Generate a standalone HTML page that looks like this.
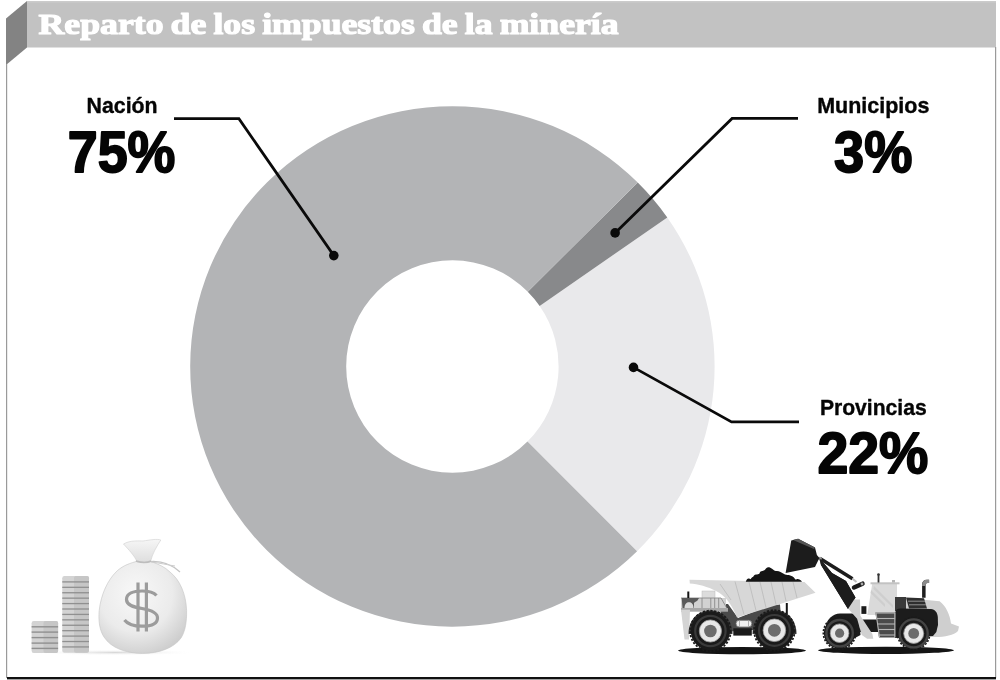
<!DOCTYPE html>
<html><head><meta charset="utf-8">
<style>
html,body{margin:0;padding:0;background:#fff;width:1000px;height:680px;overflow:hidden}
svg{display:block;will-change:transform}
.lab{font-family:"Liberation Sans",sans-serif;font-weight:bold;fill:#050505;stroke:#050505;stroke-linejoin:round}
.ttl{font-family:"Liberation Serif",serif;font-weight:bold;fill:#fff;stroke:#fff;stroke-width:1.2;stroke-linejoin:round}
</style></head><body>
<svg width="1000" height="680" viewBox="0 0 1000 680">
<!-- frame -->
<rect x="27" y="1" width="969" height="46.5" fill="#c2c2c2"/>
<rect x="27" y="1" width="969" height="1.5" fill="#cbcbcb"/>
<polygon points="6,18.4 27,1 27,47.5 6,65" fill="#838383"/>
<rect x="6" y="64" width="1.2" height="614" fill="#9a9a9a"/>
<rect x="995" y="47" width="1.2" height="631" fill="#9a9a9a"/>
<rect x="7" y="677" width="989" height="2.3" fill="#111"/>
<rect x="7" y="679.3" width="989" height="0.7" fill="#9a9a9a"/>
<text class="ttl" x="38.6" y="34" word-spacing="-1.5" font-size="29.5" textLength="580" lengthAdjust="spacingAndGlyphs">Reparto de los impuestos de la minería</text>
<!-- pie -->
<path fill="#e9e9eb" d="M637.09,551.19 A262.2,260.2 0 0 0 667.3,217.42 L539.66,305.97 A106.2,106.2 0 0 1 527.49,441.59 Z"/>
<path fill="#88898b" d="M667.3,217.42 A262.2,260.2 0 0 0 637.74,182.45 L527.76,291.67 A106.2,106.2 0 0 1 539.66,305.97 Z"/>
<path fill="#b3b4b6" d="M637.74,182.45 A262.2,260.2 0 1 0 637.09,551.19 L527.49,441.59 A106.2,106.2 0 1 1 527.76,291.67 Z"/>
<!-- leaders -->
<g fill="none" stroke="#0a0a0a" stroke-width="2.75" stroke-linejoin="miter">
<polyline points="174,118.7 238.9,118.7 333.8,255.6"/>
<polyline points="798,118.4 732.1,118.4 615.1,232.9"/>
<polyline points="633.5,367.4 731.5,421.9 799,421.9"/>
</g>
<g fill="#0a0a0a">
<circle cx="333.8" cy="255.6" r="4.8"/>
<circle cx="615.1" cy="232.9" r="4.8"/>
<circle cx="633.5" cy="367.4" r="4.8"/>
</g>
<!-- labels -->
<text class="lab" x="86.6" y="113" font-size="21.5" style="stroke-width:0.35" textLength="71" lengthAdjust="spacingAndGlyphs">Nación</text>
<text class="lab" x="67.8" y="171.6" font-size="57" style="stroke-width:1.8" textLength="107.6" lengthAdjust="spacingAndGlyphs">75%</text>
<text class="lab" x="817.2" y="113" font-size="21.5" style="stroke-width:0.35" textLength="112.2" lengthAdjust="spacingAndGlyphs">Municipios</text>
<text class="lab" x="834" y="171.6" font-size="57" style="stroke-width:1.8" textLength="78.4" lengthAdjust="spacingAndGlyphs">3%</text>
<text class="lab" x="819.9" y="415.3" font-size="21.5" style="stroke-width:0.35" textLength="106.8" lengthAdjust="spacingAndGlyphs">Provincias</text>
<text class="lab" x="817.4" y="472.6" font-size="57" style="stroke-width:1.8" textLength="111" lengthAdjust="spacingAndGlyphs">22%</text>
<!-- ICONS -->
<defs>
<linearGradient id="coinG" x1="0" x2="1" y1="0" y2="0">
<stop offset="0" stop-color="#c9c9c9"/><stop offset="0.45" stop-color="#dcdcdc"/><stop offset="0.55" stop-color="#cfcfcf"/><stop offset="1" stop-color="#bdbdbd"/>
</linearGradient>
<radialGradient id="bagG" cx="0.42" cy="0.35" r="0.7">
<stop offset="0" stop-color="#f8f8f8"/><stop offset="0.6" stop-color="#ebebeb"/><stop offset="1" stop-color="#cdcdcd"/>
</radialGradient>
<linearGradient id="topG" x1="0" x2="0" y1="0" y2="1">
<stop offset="0" stop-color="#f6f6f6"/><stop offset="1" stop-color="#dedede"/>
</linearGradient>
<radialGradient id="shG" cx="0.5" cy="0.5" r="0.5">
<stop offset="0" stop-color="#d8d8d8"/><stop offset="1" stop-color="#ffffff" stop-opacity="0"/>
</radialGradient>
</defs>
<!-- coins + bag -->
<g id="money">
<ellipse cx="115" cy="652.5" rx="85" ry="3" fill="url(#shG)"/>
<rect x="31.6" y="621" width="26.5" height="32" rx="2.2" fill="#d3d3d3"/>
<rect x="43.5" y="621" width="14.6" height="32" rx="2" fill="#c6c6c6"/>
<g fill="#909090">
<rect x="31.6" y="626.10" width="26.5" height="1.4"/>
<rect x="31.6" y="631.40" width="26.5" height="1.4"/>
<rect x="31.6" y="636.90" width="26.5" height="1.4"/>
<rect x="31.6" y="642.40" width="26.5" height="1.4"/>
<rect x="31.6" y="647.70" width="26.5" height="1.4"/>
</g>
<rect x="62.25" y="576" width="26.75" height="76.75" rx="2.2" fill="#d3d3d3"/>
<rect x="74" y="576" width="15" height="76.75" rx="2" fill="#c6c6c6"/>
<g fill="#909090">
<rect x="62.25" y="581.25" width="26.75" height="1.3"/>
<rect x="62.25" y="586.67" width="26.75" height="1.3"/>
<rect x="62.25" y="592.09" width="26.75" height="1.3"/>
<rect x="62.25" y="597.51" width="26.75" height="1.3"/>
<rect x="62.25" y="602.93" width="26.75" height="1.3"/>
<rect x="62.25" y="608.35" width="26.75" height="1.3"/>
<rect x="62.25" y="613.77" width="26.75" height="1.3"/>
<rect x="62.25" y="619.19" width="26.75" height="1.3"/>
<rect x="62.25" y="624.61" width="26.75" height="1.3"/>
<rect x="62.25" y="630.03" width="26.75" height="1.3"/>
<rect x="62.25" y="635.45" width="26.75" height="1.3"/>
<rect x="62.25" y="640.87" width="26.75" height="1.3"/>
<rect x="62.25" y="646.29" width="26.75" height="1.3"/>
</g>
<!-- bag -->
<path d="M135.9,561.6 C127,564 121,567 116,572 C108,580 101,594 99.2,610.4 C98.3,621 99.5,630 104,637 C111,648 126,653.4 142.5,653.4 C159,653.4 174,648 181,638 C185.5,631 186.8,621 186.6,610.4 C186,594 180,580 170,572 C165,567 158,564 151.2,561.6 Z" fill="url(#bagG)" stroke="#c4c4c4" stroke-width="0.6"/>
<path d="M137,562 C135,556 128,549 123.5,544 C130,540 140,541 143,541 C150,540 157,538.6 160.8,540 C157,546 152,554 150.5,562 Z" fill="url(#topG)" stroke="#cfcfcf" stroke-width="0.6"/>
<path d="M136,561 C142,563 147,563 151,561" fill="none" stroke="#bdbdbd" stroke-width="1.4"/>
<path d="M151,561.5 C160,561 170,563 180,572" fill="none" stroke="#c4c4c4" stroke-width="1.2"/>
<path d="M151,562 C160,563 168,565 175,566" fill="none" stroke="#cccccc" stroke-width="1"/>
<!-- dollar -->
<g fill="none" stroke="#9c9c9c" stroke-width="3.2">
<path d="M156.5,595.5 C153.5,592 148.5,591 142,591 C133.5,591 126.5,593.5 126.5,599.5 C126.5,605 133,607 142,608.5 C151,610 157.5,612.5 157.5,618 C157.5,624 150.5,626.2 142,626.2 C133.5,626.2 127.5,624 124.5,620"/>
<path d="M138,582.6 L138,631.4 M146.4,582.6 L146.4,631.4"/>
</g>
</g>
<!-- dump truck -->
<g id="truck">
<ellipse cx="742" cy="650.6" rx="64" ry="3.6" fill="#141414"/>
<path d="M720,604 L728,604 L738,618 L770,605.5 L780,604.5 L782,628 L722,632 Z" fill="#4a4a4a"/>
<path d="M689.5,579.8 L804.5,582 L815.5,592.8 L737,617.5 C732,605 726,596 716,591 C708,587 698,584 689.8,583.6 Z" fill="#d7d7d7"/>
<g stroke="#bcbcbc" stroke-width="0.9">
<line x1="735" y1="581.5" x2="744" y2="614.5"/>
<line x1="749" y1="582" x2="756" y2="610.5"/>
<line x1="760" y1="582" x2="766" y2="607.5"/>
<line x1="771" y1="582" x2="776" y2="604.5"/>
<line x1="782" y1="582" x2="786" y2="601"/>
<line x1="793" y1="582" x2="797" y2="598"/>
<line x1="720" y1="584" x2="731" y2="600"/>
</g>
<path d="M745.8,581.8 C746.5,579.5 747.5,578.6 748.4,578.6 C749.5,578.6 750,579.3 750.5,579.3 C751.5,578 752.5,577 753.2,576.8 C753.8,575.5 754.5,574.8 756,574.5 C757.5,574.2 758.5,574 759.5,573.4 C760,571.8 761,571 762.3,571 C763.5,571 764,570.5 765,569.8 C766,568 767,567.2 768.2,567.2 C769.8,567.2 771,567.8 772,568.8 C773.5,570 774.5,571 775.8,571 C777.5,570.8 779,571 780.5,572 C782,572.8 783.5,573.8 785,574.6 C786.5,575 788.5,575 790.2,575.4 C792,575.8 793.5,576.8 794.5,578.2 C795,579.3 795.5,579.8 796.2,579.5 C797.5,578.8 798.5,579 799.5,579.6 C800.7,580.2 801.5,581 802,581.8 Z" fill="#141414"/>
<rect x="702" y="591" width="13" height="8" fill="#dcdcdc" stroke="#bbb" stroke-width="0.5"/>
<rect x="681" y="598" width="45" height="10.5" fill="#d2d2d2"/>
<g stroke="#8a8a8a" stroke-width="0.9" fill="none">
<path d="M681,598 L721,598 L727,608.5"/>
<line x1="685" y1="598" x2="685" y2="608"/>
<line x1="693.5" y1="598" x2="693.5" y2="608"/>
<line x1="702" y1="598" x2="702" y2="608"/>
<line x1="710.8" y1="598" x2="710.8" y2="608"/>
<line x1="714.7" y1="598" x2="714.7" y2="608"/>
<line x1="718.7" y1="598" x2="718.7" y2="608"/>
</g>
<path d="M681.7,598 L699,598 L697.5,600.5 C696,601.5 695,602 694,603 L694,608 L682.5,608 Z" fill="#5a5a5a"/>
<path d="M684.5,608 C684.5,604 686.5,602.2 689,602.2 C691.5,602.2 693.5,604 693.5,608 Z" fill="#dadada"/>
<rect x="681" y="608" width="47" height="3.7" fill="#a8a8a8"/>
<path d="M681,609.7 L690,609.7 L689,639.5 L684.5,639.5 Z" fill="#d4d4d4"/>
<rect x="687.3" y="591.5" width="2" height="6.5" fill="#141414"/>
<rect x="785.8" y="603" width="2" height="12.5" fill="#141414"/>
<path d="M688.5,634 C688.5,619.5 698,610.5 710.4,610.5 C723,610.5 732.5,619.5 732.5,634 Z" fill="#3a3a3a"/>
<path d="M752.5,634 C752.5,619.5 762,610 774.4,610 C787,610 796.5,619.5 796.5,634 Z" fill="#3a3a3a"/>
<g fill="#1a1a1a">
<circle cx="710.4" cy="631" r="19.6"/>
<circle cx="774.4" cy="630.5" r="19.6"/>
</g>
<g fill="none" stroke="#1a1a1a" stroke-width="1.8" stroke-dasharray="2.2 1.6">
<circle cx="710.4" cy="631" r="20.3"/>
<circle cx="774.4" cy="630.5" r="20.3"/>
</g>
<g fill="none" stroke="#3a3a3a" stroke-width="2.2">
<circle cx="710.4" cy="631" r="15.2"/>
<circle cx="774.4" cy="630.4" r="15.4"/>
</g>
<g fill="#e8e8e8" stroke="#9a9a9a" stroke-width="0.8">
<circle cx="710.4" cy="631" r="11.1"/>
<circle cx="774.4" cy="630.3" r="11.3"/>
</g>
<g fill="#6c6c6c">
<circle cx="710.4" cy="631" r="6.3"/>
<circle cx="774.4" cy="630.3" r="6.4"/>
</g>
<rect x="736" y="620.3" width="15.8" height="6.7" rx="3.3" fill="#f0f0f0" stroke="#707070" stroke-width="0.8"/>
<path d="M739.5,620.6 V626.7 M748.5,620.6 V626.7" stroke="#a0a0a0" stroke-width="0.8"/>
<rect x="733.3" y="628.3" width="18.5" height="7.3" fill="#1a1a1a"/>
</g>
<!-- loader -->
<g id="loader">
<ellipse cx="886" cy="650.3" rx="68" ry="3.6" fill="#141414"/>
<path d="M895,597 L939.6,601.3 C946,606 950,615 951,623.6 L959,626.4 L958,631 C954,635 945,637 935,637 L895,637 Z" fill="#cfcfcf"/>
<path d="M867.3,615 L872.2,583.8 L897,583.8 L897,615 Z" fill="#dadada"/>
<path d="M871,590 L885,604 L885,607 L870.5,593 Z M874,586 L893,605 L893,608 L873.5,589 Z" fill="#cacaca" opacity="0.8"/>
<rect x="870.5" y="582.3" width="29" height="2" fill="#c2c2c2"/>
<rect x="892" y="580" width="3" height="2.5" fill="#b5b5b5"/>
<rect x="877.6" y="574.5" width="1.8" height="8" fill="#333"/>
<circle cx="878.5" cy="574.5" r="1.3" fill="#333"/>
<path d="M922.1,597.8 L922.1,584.5 C922.1,581.5 924,579.7 927,579.7 L929.1,579.7 L929.1,583 L927.5,583 C926,583 925.6,584 925.6,585.5 L925.6,597.8 Z" fill="#1e1e1e"/>
<path d="M922.1,586 C922.1,581.5 924,579.7 927,579.7 L929.1,579.7 L929.1,583 L927.5,583 C926,583 925.6,584 925.6,586 Z" fill="#8a8a8a"/>
<rect x="895" y="597" width="11" height="14" fill="#3a3a3a"/>
<path d="M906,597.5 L924,598.3 L927,608.5 L909,608.5 Z" fill="#2e2e2e"/>
<g stroke="#9a9a9a" stroke-width="0.9">
<line x1="908" y1="601.2" x2="925" y2="601.2"/>
<line x1="909" y1="604.8" x2="926" y2="604.8"/>
</g>
<path d="M895,638 L895.3,613 C895.5,610 897,608.6 900.5,608.6 L931,609 C935,609.5 937.4,612.5 937.8,617 L938,625 L936.3,632 L933,636 Z" fill="#1c1c1c"/>
<rect x="860" y="619.5" width="36" height="12.5" fill="#1c1c1c"/>
<path d="M875.4,612.5 L895.6,612.5 L895.6,637.6 L879,637.6 Z" fill="#4a4a4a"/>
<g stroke="#b5b5b5" stroke-width="1.1">
<line x1="876" y1="613" x2="895" y2="613"/>
<line x1="877" y1="618.5" x2="895" y2="618.5"/>
<line x1="877.5" y1="624" x2="895" y2="624"/>
<line x1="878" y1="629.5" x2="895" y2="629.5"/>
<line x1="878.5" y1="635" x2="895" y2="635"/>
<line x1="876" y1="613" x2="879.5" y2="637.5"/>
<line x1="894.8" y1="613" x2="894.8" y2="637.5"/>
</g>
<rect x="861.4" y="606.2" width="5" height="7.7" fill="#1c1c1c"/>

<path d="M826,626 C827,619 833,613.4 840,613.4 L852,613.4 C856,613.6 858.5,616 859.2,620 L860.5,635 L855,638 L840,638 Z" fill="#1c1c1c"/>
<path d="M819.4,558 L832,573 L846,581 L855.5,597.5 L848,609 L821,565 Z" fill="#1c1c1c"/>
<line x1="820" y1="558.5" x2="852.5" y2="578.7" stroke="#1c1c1c" stroke-width="3.5"/>
<line x1="852.5" y1="578.7" x2="856.5" y2="582" stroke="#bdbdbd" stroke-width="2"/>
<line x1="854" y1="587.5" x2="862.5" y2="583.7" stroke="#1c1c1c" stroke-width="4.5" stroke-linecap="round"/>
<circle cx="862" cy="584" r="1.4" fill="#aaa"/>
<circle cx="820" cy="558.5" r="1.8" fill="#9a9a9a"/>
<path d="M791.25,540.6 L798.1,538.75 L815,547.5 L816.9,555 L819.4,558.1 L815,566.9 L785.6,573.1 Z" fill="#1c1c1c"/>
<path d="M793,540 L798.1,538.75 L815,547.5 L814,549 Z" fill="#555"/>
<circle cx="839.5" cy="633" r="15.6" fill="#1a1a1a"/>
<circle cx="913.6" cy="633.3" r="15.6" fill="#1a1a1a"/>
<g fill="none" stroke="#1a1a1a" stroke-width="1.6" stroke-dasharray="2 1.5">
<circle cx="839.5" cy="633" r="16.2"/>
<circle cx="913.6" cy="633.3" r="16.2"/>
</g>
<g fill="none" stroke="#444" stroke-width="2.4">
<circle cx="839.6" cy="633.2" r="13.2"/>
<circle cx="913.7" cy="633.4" r="14"/>
</g>
<g fill="#e8e8e8" stroke="#9a9a9a" stroke-width="0.8">
<circle cx="839.6" cy="633.2" r="9.3"/>
<circle cx="913.7" cy="633.4" r="10"/>
</g>
<g fill="#6c6c6c">
<circle cx="839.6" cy="633.2" r="4.6"/>
<circle cx="913.7" cy="633.4" r="5.4"/>
</g>
<path d="M848.5,599.6 L860,599.6 L860.4,615.8 L872.4,634 L873.3,638.8 L867.1,638.8 L861.8,635 L857.1,618.7 L848,608.6 Z" fill="#d0d0d0"/>
<path d="M819.4,558 L832,573 L846,581 L855.5,597.5 L848,609 L821,565 Z" fill="#1c1c1c"/>
</g>
</svg>
</body></html>
